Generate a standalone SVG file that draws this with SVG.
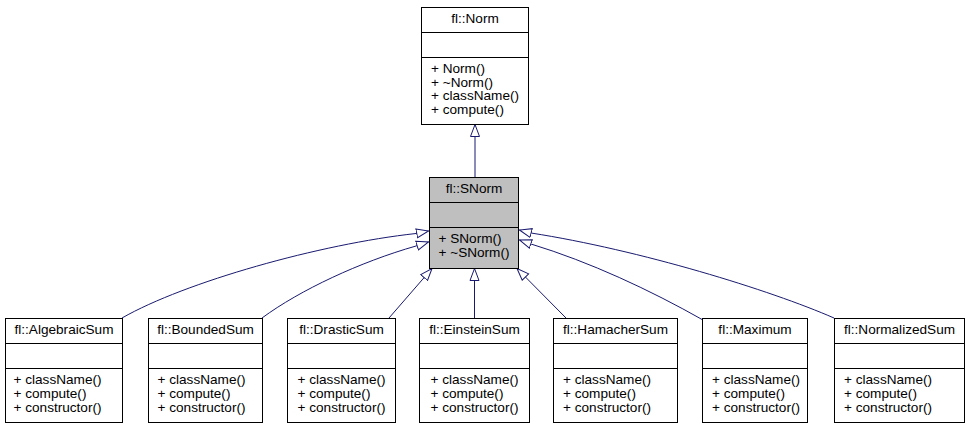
<svg xmlns="http://www.w3.org/2000/svg" width="971" height="429" viewBox="0 0 971 429">
<style>
  .box { fill: #ffffff; stroke: #000000; stroke-width: 1; }
  .gray { fill: #bfbfbf; }
  .sep { stroke: #000000; stroke-width: 1; }
  .t { font-family: "Liberation Sans", Arial, sans-serif; font-size: 13.6px; fill: #000000; }
  .c { text-anchor: middle; }
  .edge { fill: none; stroke: #191970; stroke-width: 1; marker-end: url(#inh); }
</style>
<defs>
  <marker id="inh" markerUnits="userSpaceOnUse" markerWidth="14" markerHeight="12" refX="12.5" refY="6" orient="auto" viewBox="0 0 14 12">
    <path d="M0.5,1.5 L12.5,6 L0.5,10.5 Z" fill="#ffffff" stroke="#191970" stroke-width="1"/>
  </marker>
</defs>
<rect width="971" height="429" fill="#ffffff"/>

<g id="connectors">
  <path class="edge" d="M475,177 L475,124.5"/>
  <path class="edge" d="M122,318 C185,282 320,244 416,233.5 L428.5,231"/>
  <path class="edge" d="M262,318 C300,290 360,262 416,246 L428.5,242"/>
  <path class="edge" d="M389,318 L432,268.5"/>
  <path class="edge" d="M474.5,318 L474.5,268.5"/>
  <path class="edge" d="M566,318 L517,268.5"/>
  <path class="edge" d="M703,320 C650,290 590,262 531,244 L519.5,240"/>
  <path class="edge" d="M834,318 C770,290 640,250 531,233 L519.5,230"/>
</g>

<g id="norm">
  <rect class="box" x="421.5" y="7.5" width="107" height="117"/>
  <line class="sep" x1="421.5" y1="32.5" x2="528.5" y2="32.5"/>
  <line class="sep" x1="421.5" y1="57.5" x2="528.5" y2="57.5"/>
  <text class="t c" x="475" y="23">fl::Norm</text>
  <text class="t" x="431" y="73">+ Norm()</text>
  <text class="t" x="431" y="86.5">+ ~Norm()</text>
  <text class="t" x="431" y="100">+ className()</text>
  <text class="t" x="431" y="113.5">+ compute()</text>
</g>

<g id="snorm">
  <rect class="box gray" x="429.5" y="177.5" width="89" height="91"/>
  <line class="sep" x1="429.5" y1="202.5" x2="518.5" y2="202.5"/>
  <line class="sep" x1="429.5" y1="227.5" x2="518.5" y2="227.5"/>
  <text class="t c" x="474" y="193">fl::SNorm</text>
  <text class="t" x="438.5" y="243">+ SNorm()</text>
  <text class="t" x="438.5" y="256.5">+ ~SNorm()</text>
</g>

<g id="algebraicsum">
  <rect class="box" x="5.5" y="318.5" width="117" height="104"/>
  <line class="sep" x1="5.5" y1="343.5" x2="122.5" y2="343.5"/>
  <line class="sep" x1="5.5" y1="368.5" x2="122.5" y2="368.5"/>
  <text class="t c" x="64" y="334">fl::AlgebraicSum</text>
  <text class="t" x="13.5" y="384">+ className()</text>
  <text class="t" x="13.5" y="398">+ compute()</text>
  <text class="t" x="13.5" y="412">+ constructor()</text>
</g>

<g id="boundedsum">
  <rect class="box" x="148.5" y="318.5" width="114" height="104"/>
  <line class="sep" x1="148.5" y1="343.5" x2="262.5" y2="343.5"/>
  <line class="sep" x1="148.5" y1="368.5" x2="262.5" y2="368.5"/>
  <text class="t c" x="205.5" y="334">fl::BoundedSum</text>
  <text class="t" x="157.5" y="384">+ className()</text>
  <text class="t" x="157.5" y="398">+ compute()</text>
  <text class="t" x="157.5" y="412">+ constructor()</text>
</g>

<g id="drasticsum">
  <rect class="box" x="287.5" y="318.5" width="108" height="104"/>
  <line class="sep" x1="287.5" y1="343.5" x2="395.5" y2="343.5"/>
  <line class="sep" x1="287.5" y1="368.5" x2="395.5" y2="368.5"/>
  <text class="t c" x="341.5" y="334">fl::DrasticSum</text>
  <text class="t" x="297.5" y="384">+ className()</text>
  <text class="t" x="297.5" y="398">+ compute()</text>
  <text class="t" x="297.5" y="412">+ constructor()</text>
</g>

<g id="einsteinsum">
  <rect class="box" x="419.5" y="318.5" width="110" height="104"/>
  <line class="sep" x1="419.5" y1="343.5" x2="529.5" y2="343.5"/>
  <line class="sep" x1="419.5" y1="368.5" x2="529.5" y2="368.5"/>
  <text class="t c" x="474.5" y="334">fl::EinsteinSum</text>
  <text class="t" x="430.5" y="384">+ className()</text>
  <text class="t" x="430.5" y="398">+ compute()</text>
  <text class="t" x="430.5" y="412">+ constructor()</text>
</g>

<g id="hamachersum">
  <rect class="box" x="553.5" y="318.5" width="124" height="104"/>
  <line class="sep" x1="553.5" y1="343.5" x2="677.5" y2="343.5"/>
  <line class="sep" x1="553.5" y1="368.5" x2="677.5" y2="368.5"/>
  <text class="t c" x="615.5" y="334">fl::HamacherSum</text>
  <text class="t" x="563" y="384">+ className()</text>
  <text class="t" x="563" y="398">+ compute()</text>
  <text class="t" x="563" y="412">+ constructor()</text>
</g>

<g id="maximum">
  <rect class="box" x="702.5" y="318.5" width="105" height="104"/>
  <line class="sep" x1="702.5" y1="343.5" x2="807.5" y2="343.5"/>
  <line class="sep" x1="702.5" y1="368.5" x2="807.5" y2="368.5"/>
  <text class="t c" x="755" y="334">fl::Maximum</text>
  <text class="t" x="712" y="384">+ className()</text>
  <text class="t" x="712" y="398">+ compute()</text>
  <text class="t" x="712" y="412">+ constructor()</text>
</g>

<g id="normalizedsum">
  <rect class="box" x="834.5" y="318.5" width="130" height="104"/>
  <line class="sep" x1="834.5" y1="343.5" x2="964.5" y2="343.5"/>
  <line class="sep" x1="834.5" y1="368.5" x2="964.5" y2="368.5"/>
  <text class="t c" x="899.5" y="334">fl::NormalizedSum</text>
  <text class="t" x="844" y="384">+ className()</text>
  <text class="t" x="844" y="398">+ compute()</text>
  <text class="t" x="844" y="412">+ constructor()</text>
</g>
</svg>
